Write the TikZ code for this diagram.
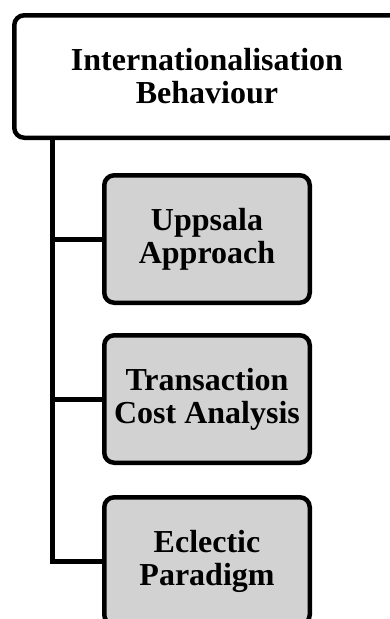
\documentclass[tikz,border=0pt]{standalone}
\usepackage{fontspec}
\setmainfont{Liberation Serif}
\definecolor{boxgrey}{RGB}{210,210,210}
\begin{document}
\begin{tikzpicture}[x=1pt,y=-1pt,
  every node/.style={font=\bfseries\fontsize{32}{33}\selectfont, align=center, inner sep=0pt},
  rootbox/.style={draw=black, line width=4.5pt, rounded corners=10pt, fill=white,
                  minimum width=385.5pt, minimum height=122.5pt},
  childbox/.style={draw=black, line width=4.5pt, rounded corners=10pt, fill=boxgrey,
                  minimum width=205.5pt, minimum height=127.5pt},
  link/.style={draw=black, line width=5pt}]
  \clip (0,0) rectangle (390,619);
  \fill[white] (0,0) rectangle (390,619);

  \node[rootbox] (root) at (207,76.5) {Internationalisation\\Behaviour};
  \node[childbox] (c1) at (207,239) {Uppsala\\Approach};
  \node[childbox] (c2) at (207,399) {Transaction\\Cost Analysis};
  \node[childbox] (c3) at (207,561) {Eclectic\\Paradigm};

  \coordinate (spine) at (52.5,0);
  \draw[link] (root.south -| spine) |- (c3.west);
  \draw[link] (spine |- c1.west) -- (c1.west);
  \draw[link] (spine |- c2.west) -- (c2.west);
\end{tikzpicture}
\end{document}
